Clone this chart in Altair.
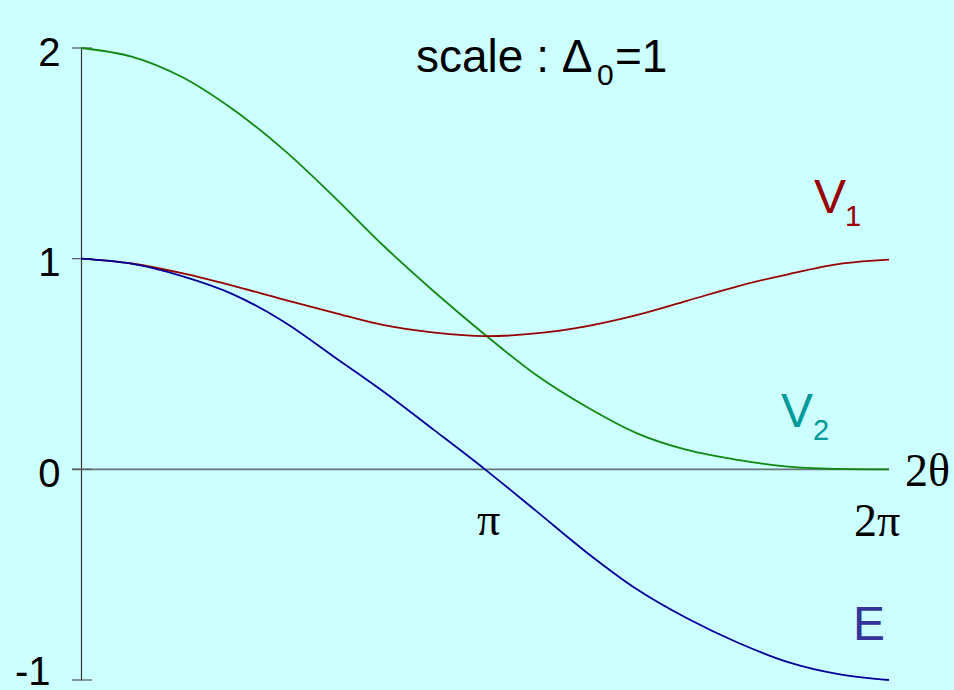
import altair as alt
import pandas as pd

# Abscissa 2θ, in units of π
t_pi = [0.0, 0.125, 0.25, 0.375, 0.5, 0.625, 0.75, 0.875, 1.0,
        1.125, 1.25, 1.375, 1.5, 1.625, 1.75, 1.875, 2.0]

# Curves (scale: Δ0 = 1)
v1 = [1.0, 0.977, 0.931, 0.872, 0.807, 0.744, 0.684, 0.649, 0.632,
      0.645, 0.679, 0.732, 0.800, 0.869, 0.926, 0.974, 0.995]
v2 = [2.0, 1.959, 1.862, 1.710, 1.520, 1.296, 1.059, 0.842, 0.639,
      0.450, 0.298, 0.172, 0.092, 0.045, 0.013, 0.002, 0.0]
energy = [1.0, 0.976, 0.917, 0.832, 0.703, 0.536, 0.367, 0.185, 0.0,
          -0.195, -0.392, -0.568, -0.707, -0.822, -0.915, -0.972, -1.0]

y_ticks = [-1, 0, 1, 2]

series_names = ["V2", "V1", "E"]
series_colors = ["#118811", "#990000", "#000099"]

W, H = 808, 632          # plot area
LEFT, TOP = 81, 48       # plot origin inside the page

df = pd.DataFrame({"t": t_pi, "V1": v1, "V2": v2, "E": energy})

xs = alt.Scale(domain=[0, 2], nice=False, zero=False)
ys = alt.Scale(domain=[-1, 2], nice=False, zero=False)

# one shared vertical axis definition for every layer
y_axis = alt.Axis(
    values=y_ticks,
    title=None,
    grid=False,
    ticks=False,
    domain=True,
    domainColor="#333333",
    domainWidth=1.2,
    labelFontSize=40,
    labelFont="Liberation Sans",
    labelColor="black",
    labelPadding={"condition": {"test": "datum.value == -1", "value": 31}, "value": 21},
    labelAlign="right",
    labelBaseline="middle",
    labelOffset={"condition": {"test": "datum.value == -1", "value": -8}, "value": 5},
    labelFlush=False,
    labelOverlap=False,
    labelExpr="datum.value < 0 ? '-' + abs(datum.value) : datum.label",
    format="d",
)

curves = (
    alt.Chart(df)
    .transform_fold(series_names, as_=["series", "value"])
    .mark_line(strokeWidth=1.8, interpolate="catmull-rom")
    .encode(
        x=alt.X("t:Q", scale=xs, axis=None),
        y=alt.Y("value:Q", scale=ys, axis=y_axis),
        color=alt.Color(
            "series:N",
            scale=alt.Scale(domain=series_names, range=series_colors),
            legend=None,
        ),
    )
)

# tick marks crossing the vertical axis
ticks = (
    alt.Chart(pd.DataFrame({"tick": y_ticks}))
    .mark_rule(color="#555555", strokeWidth=1.2)
    .encode(
        y=alt.Y("tick:Q", scale=ys, axis=y_axis),
        x=alt.value(-9),
        x2=alt.value(11),
    )
)

# horizontal 2θ axis at zero
zero_line = (
    alt.Chart(pd.DataFrame({"z": [0]}))
    .mark_rule(color="#667777", strokeWidth=1.6)
    .encode(
        y=alt.Y("z:Q", scale=ys, axis=y_axis),
        x=alt.value(-9),
        x2=alt.value(W),
    )
)


def label(text, x, y, size, color="black", font="Liberation Sans"):
    """Text placed at page pixel (x, y), y being the baseline."""
    return (
        alt.Chart(pd.DataFrame({"s": [text]}))
        .mark_text(
            align="left",
            baseline="alphabetic",
            fontSize=size,
            font=font,
            color=color,
        )
        .encode(x=alt.value(x - LEFT), y=alt.value(y - TOP), text="s:N")
    )


serif = "Liberation Serif"
texts = [
    label("scale : Δ", 416, 72, 46),
    label("0", 597, 85, 30),
    label("=1", 615, 72, 46),
    label("V", 814, 213, 48, "#990000"),
    label("1", 845, 226, 29, "#990000"),
    label("V", 781, 427, 48, "#009999"),
    label("2", 813, 440, 29, "#009999"),
    label("E", 853, 640, 48, "#333399"),
    label("π", 477, 535, 46, font=serif),
    label("2π", 854, 536, 46, font=serif),
    label("2θ", 905, 486, 46, font=serif),
]

chart = (
    alt.layer(zero_line, ticks, curves, *texts)
    .properties(
        width=W,
        height=H,
        padding={"left": LEFT, "top": TOP, "right": 954 - LEFT - W, "bottom": 690 - TOP - H},
        autosize=alt.AutoSizeParams(type="none"),
        background="#CCFFFF",
    )
    .configure_view(stroke=None)
)

chart.save("out.html", embed_options={"renderer": "svg", "actions": False})
